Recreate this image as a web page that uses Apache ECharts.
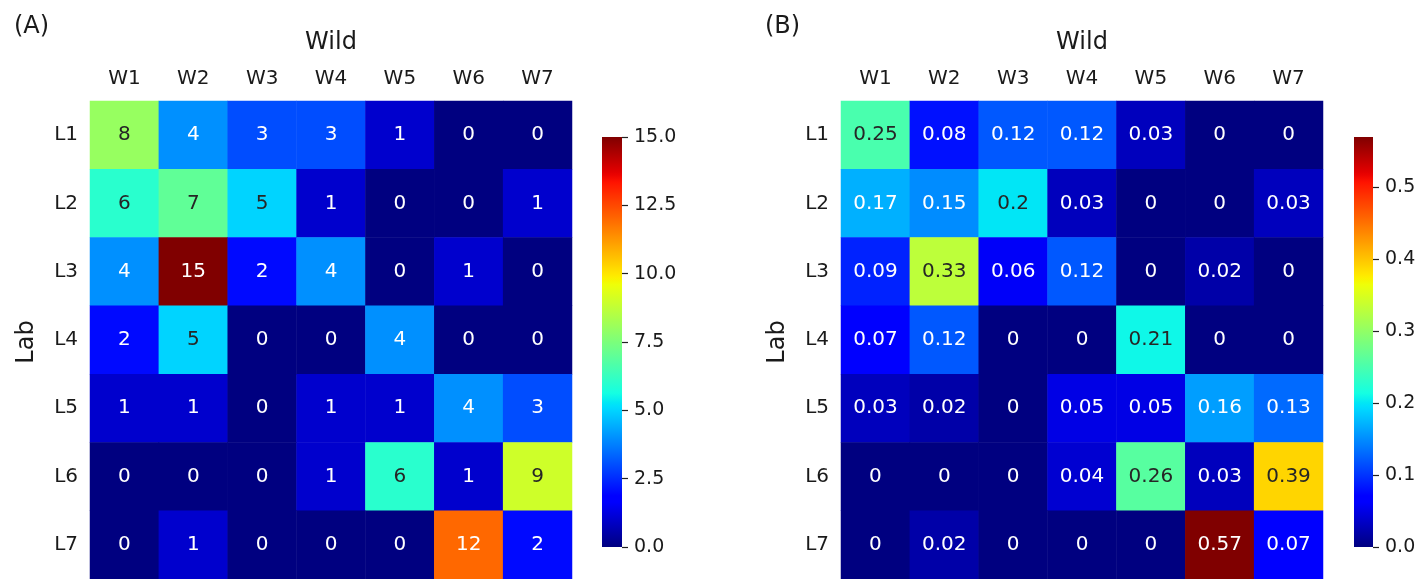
<!DOCTYPE html>
<html>
<head>
<meta charset="utf-8">
<script src="https://cdn.jsdelivr.net/npm/echarts@6/dist/echarts.min.js"></script>
<style>
html,body{margin:0;padding:0;background:#fff;overflow:hidden;}
#c{width:1420px;height:579px;}
</style>
</head>
<body>
<div id="c"></div>
<script>
const wildLabels = ['W1','W2','W3','W4','W5','W6','W7'];
const labLabels = ['L1','L2','L3','L4','L5','L6','L7'];
const countsA = [
  [8,4,3,3,1,0,0],
  [6,7,5,1,0,0,1],
  [4,15,2,4,0,1,0],
  [2,5,0,0,4,0,0],
  [1,1,0,1,1,4,3],
  [0,0,0,1,6,1,9],
  [0,1,0,0,0,12,2]
];
const fractionsB = [
  [0.25,0.08,0.12,0.12,0.03,0,0],
  [0.17,0.15,0.2,0.03,0,0,0.03],
  [0.09,0.33,0.06,0.12,0,0.02,0],
  [0.07,0.12,0,0,0.21,0,0],
  [0.03,0.02,0,0.05,0.05,0.16,0.13],
  [0,0,0,0.04,0.26,0.03,0.39],
  [0,0.02,0,0,0,0.57,0.07]
];
const maxA = 15, maxB = 0.57;
const tickMaxA = 15, tickStepA = 2.5;
const tickMaxB = 0.5, tickStepB = 0.1;

function seg(pts,t){
  for(let i=1;i<pts.length;i++){
    if(t<=pts[i][0]){
      const a=pts[i-1],b=pts[i];
      const f=(t-a[0])/(b[0]-a[0]||1);
      return a[1]+f*(b[1]-a[1]);
    }
  }
  return pts[pts.length-1][1];
}
function jet(t){
  t=Math.max(0,Math.min(1,t));
  const r=seg([[0,0],[0.35,0],[0.66,1],[0.89,1],[1,0.5]],t);
  const g=seg([[0,0],[0.125,0],[0.375,1],[0.64,1],[0.91,0],[1,0]],t);
  const b=seg([[0,0.5],[0.11,1],[0.34,1],[0.65,0],[1,0]],t);
  return [r,g,b];
}
function hex(c){return '#'+c.map(v=>Math.round(v*255).toString(16).padStart(2,'0')).join('');}
const jetStops=[];
for(let i=0;i<=128;i++) jetStops.push(hex(jet(i/128)));
const gradStops=jetStops.map((c,i)=>({offset:i/(jetStops.length-1),color:c}));
function lum(c){
  const l=c.map(v=>v<=0.03928?v/12.92:Math.pow((v+0.055)/1.055,2.4));
  return 0.2126*l[0]+0.7152*l[1]+0.0722*l[2];
}
function textColor(v,max){return lum(jet(v/max))>0.408?'#262626':'#ffffff';}

function buildData(mat,max){
  const out=[];
  mat.forEach((row,yi)=>row.forEach((v,xi)=>{
    out.push({value:[xi,yi,v],label:{color:textColor(v,max)}});
  }));
  return out;
}

const FONT='DejaVu Sans';
const TXT='#1a1a1a';

function heatAxes(gi){
  return {
    x:{type:'category',gridIndex:gi,data:wildLabels,position:'top',
      axisLine:{show:false},axisTick:{show:false},splitLine:{show:false},
      axisLabel:{fontFamily:FONT,fontSize:20,color:TXT,margin:12}},
    y:{type:'category',gridIndex:gi,data:labLabels,inverse:true,
      axisLine:{show:false},axisTick:{show:false},splitLine:{show:false},
      axisLabel:{fontFamily:FONT,fontSize:20,color:TXT,margin:12}}
  };
}
function cbAxes(gi,max,interval){
  return {
    x:{type:'value',gridIndex:gi,show:false,min:0,max:1,axisLine:{onZero:false}},
    y:{type:'value',gridIndex:gi,position:'right',min:0,max:max,interval:interval,z:10,
      axisLine:{show:false,onZero:false},splitLine:{show:false},
      axisTick:{show:true,inside:false,length:6,lineStyle:{color:'#222',width:1.2}},
      axisLabel:{fontFamily:FONT,fontSize:19,color:TXT,margin:12,
        formatter:v=>Number(v).toFixed(1)}}
  };
}
const a0=heatAxes(0),a1=heatAxes(1),c0=cbAxes(2,tickMaxA,tickStepA),c1=cbAxes(3,tickMaxB,tickStepB);

// colorbar B: 0..0.57 spans 137..547; its axis only runs to the 0.5 tick
const cbBTop = 547 - 410*tickMaxB/maxB;

function colorbarItem(params,api){
  const p0=api.coord([0,0]);
  const p1=api.coord([1,api.value(1)]);
  return {type:'rect',
    shape:{x:p0[0],y:p1[1],width:p1[0]-p0[0],height:p0[1]-p1[1]},
    style:{fill:new echarts.graphic.LinearGradient(0,1,0,0,gradStops)}};
}

const chart=echarts.init(document.getElementById('c'),null,{renderer:'canvas'});
chart.setOption({
  animation:false,
  backgroundColor:'#ffffff',
  textStyle:{fontFamily:FONT},
  grid:[
    {left:90,top:101,width:482,height:483},
    {left:841,top:101,width:482,height:483},
    {left:602,top:137,width:20,height:410},
    {left:1354,top:cbBTop,width:19,height:547-cbBTop}
  ],
  xAxis:[a0.x,a1.x,c0.x,c1.x],
  yAxis:[a0.y,a1.y,c0.y,c1.y],
  visualMap:[
    {type:'continuous',show:false,seriesIndex:0,min:0,max:maxA,inRange:{color:jetStops}},
    {type:'continuous',show:false,seriesIndex:1,min:0,max:maxB,inRange:{color:jetStops}}
  ],
  series:[
    {type:'heatmap',xAxisIndex:0,yAxisIndex:0,data:buildData(countsA,maxA),
      label:{show:true,fontFamily:FONT,fontSize:20,formatter:p=>String(p.value[2])},
      itemStyle:{borderWidth:0}},
    {type:'heatmap',xAxisIndex:1,yAxisIndex:1,data:buildData(fractionsB,maxB),
      label:{show:true,fontFamily:FONT,fontSize:20,formatter:p=>String(p.value[2])},
      itemStyle:{borderWidth:0}},
    {type:'custom',xAxisIndex:2,yAxisIndex:2,data:[[1,maxA]],renderItem:colorbarItem,clip:false,silent:true,z:1},
    {type:'custom',xAxisIndex:3,yAxisIndex:3,data:[[1,maxB]],renderItem:colorbarItem,clip:false,silent:true,z:1}
  ],
  graphic:[
    {type:'text',left:14,top:15,style:{text:'(A)',font:'24px "DejaVu Sans"',fill:TXT}},
    {type:'text',left:765,top:15,style:{text:'(B)',font:'24px "DejaVu Sans"',fill:TXT}},
    {type:'text',x:331,y:43,style:{text:'Wild',font:'24px "DejaVu Sans"',fill:TXT,textAlign:'center',textVerticalAlign:'middle'}},
    {type:'text',x:1082,y:43,style:{text:'Wild',font:'24px "DejaVu Sans"',fill:TXT,textAlign:'center',textVerticalAlign:'middle'}},
    {type:'text',x:27,y:342,rotation:Math.PI/2,style:{text:'Lab',font:'24px "DejaVu Sans"',fill:TXT,textAlign:'center',textVerticalAlign:'middle'}},
    {type:'text',x:778,y:342,rotation:Math.PI/2,style:{text:'Lab',font:'24px "DejaVu Sans"',fill:TXT,textAlign:'center',textVerticalAlign:'middle'}}
  ]
});
</script>
</body>
</html>
